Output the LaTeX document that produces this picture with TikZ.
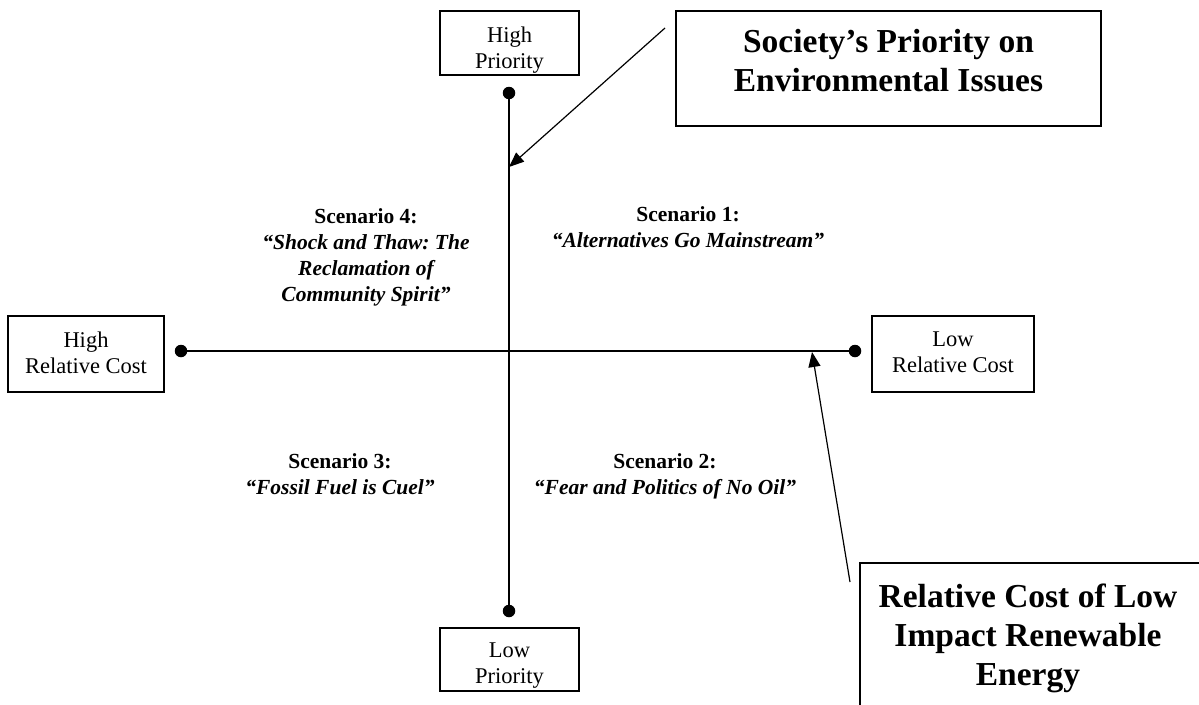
\documentclass[tikz,border=0pt]{standalone}
\usepackage{fontspec}
\setmainfont{Liberation Serif}
\usetikzlibrary{arrows.meta}
\frenchspacing
\begin{document}
\begin{tikzpicture}[x=1pt,y=-1pt,
  boxframe/.style={draw, line width=1.3pt, inner sep=0pt},
  boxtext/.style={align=center, inner sep=0pt, font=\fontsize{22.5}{26}\selectfont},
  bigtext/.style={align=center, inner sep=0pt, font=\bfseries\fontsize{33.5}{39}\selectfont},
  scen/.style={align=center, inner sep=0pt, font=\bfseries\fontsize{21.5}{26}\selectfont},
  axisline/.style={line width=1.3pt},
  dotnode/.style={circle, fill=black, inner sep=0pt, minimum size=12.5pt},
  arr/.style={line width=1.2pt, -{Triangle[length=15pt,width=12pt]}}
]
\useasboundingbox (0,0) rectangle (1199,704);
\clip (0,0) rectangle (1199,704);

% small boxes
\node[boxframe, minimum width=139, minimum height=64] (hpbox) at (509.5,43) {};
\node[boxtext] (hptext) at (509.5,50) {High\\Priority};
\node[boxframe, minimum width=139, minimum height=63] (lpbox) at (509.5,659.5) {};
\node[boxtext] (lptext) at (509.5,665.5) {Low\\Priority};
\node[boxframe, minimum width=156, minimum height=76] (hcbox) at (86,354) {};
\node[boxtext] (hctext) at (86,352.5) {High\\Relative Cost};
\node[boxframe, minimum width=162, minimum height=76] (lcbox) at (953,354) {};
\node[boxtext] (lctext) at (953,352.5) {Low\\Relative Cost};

% big boxes
\node[boxframe, minimum width=425, minimum height=115] (socbox) at (888.5,68.5) {};
\node[bigtext] (soctext) at (888.5,61) {Society’s Priority on\\Environmental Issues};
\node[boxframe, minimum width=350, minimum height=160] (rcbox) at (1035,643) {};
\node[bigtext] (rctext) at (1028,638) {Relative Cost of Low\\Impact Renewable\\Energy};

% axes
\node[dotnode] (dtop) at (509,93) {};
\node[dotnode] (dbot) at (509,611) {};
\node[dotnode] (dleft) at (181,351) {};
\node[dotnode] (dright) at (855,351) {};
\draw[axisline] (dtop) -- (dbot);
\draw[axisline] (dleft) -- (dright);

% arrows
\coordinate (a1s) at (665,28);
\coordinate (a1e) at (509,167);
\coordinate (a2s) at (850,582);
\coordinate (a2e) at (812,352);
\draw[arr] (a1s) -- (a1e);
\draw[arr] (a2s) -- (a2e);

% scenarios
\node[scen] (s1) at (688,227) {Scenario 1:\\\itshape “Alternatives Go Mainstream”};
\node[scen] (s4) at (366,257) {Scenario 4:\\\itshape “Shock and Thaw: The\\\itshape Reclamation of\\\itshape Community Spirit”};
\node[scen] (s3) at (340,474) {Scenario 3:\\\itshape “Fossil Fuel is Cuel”};
\node[scen] (s2) at (665,476) {Scenario 2:\\\itshape “Fear and Politics of No Oil”};
\end{tikzpicture}
\end{document}
